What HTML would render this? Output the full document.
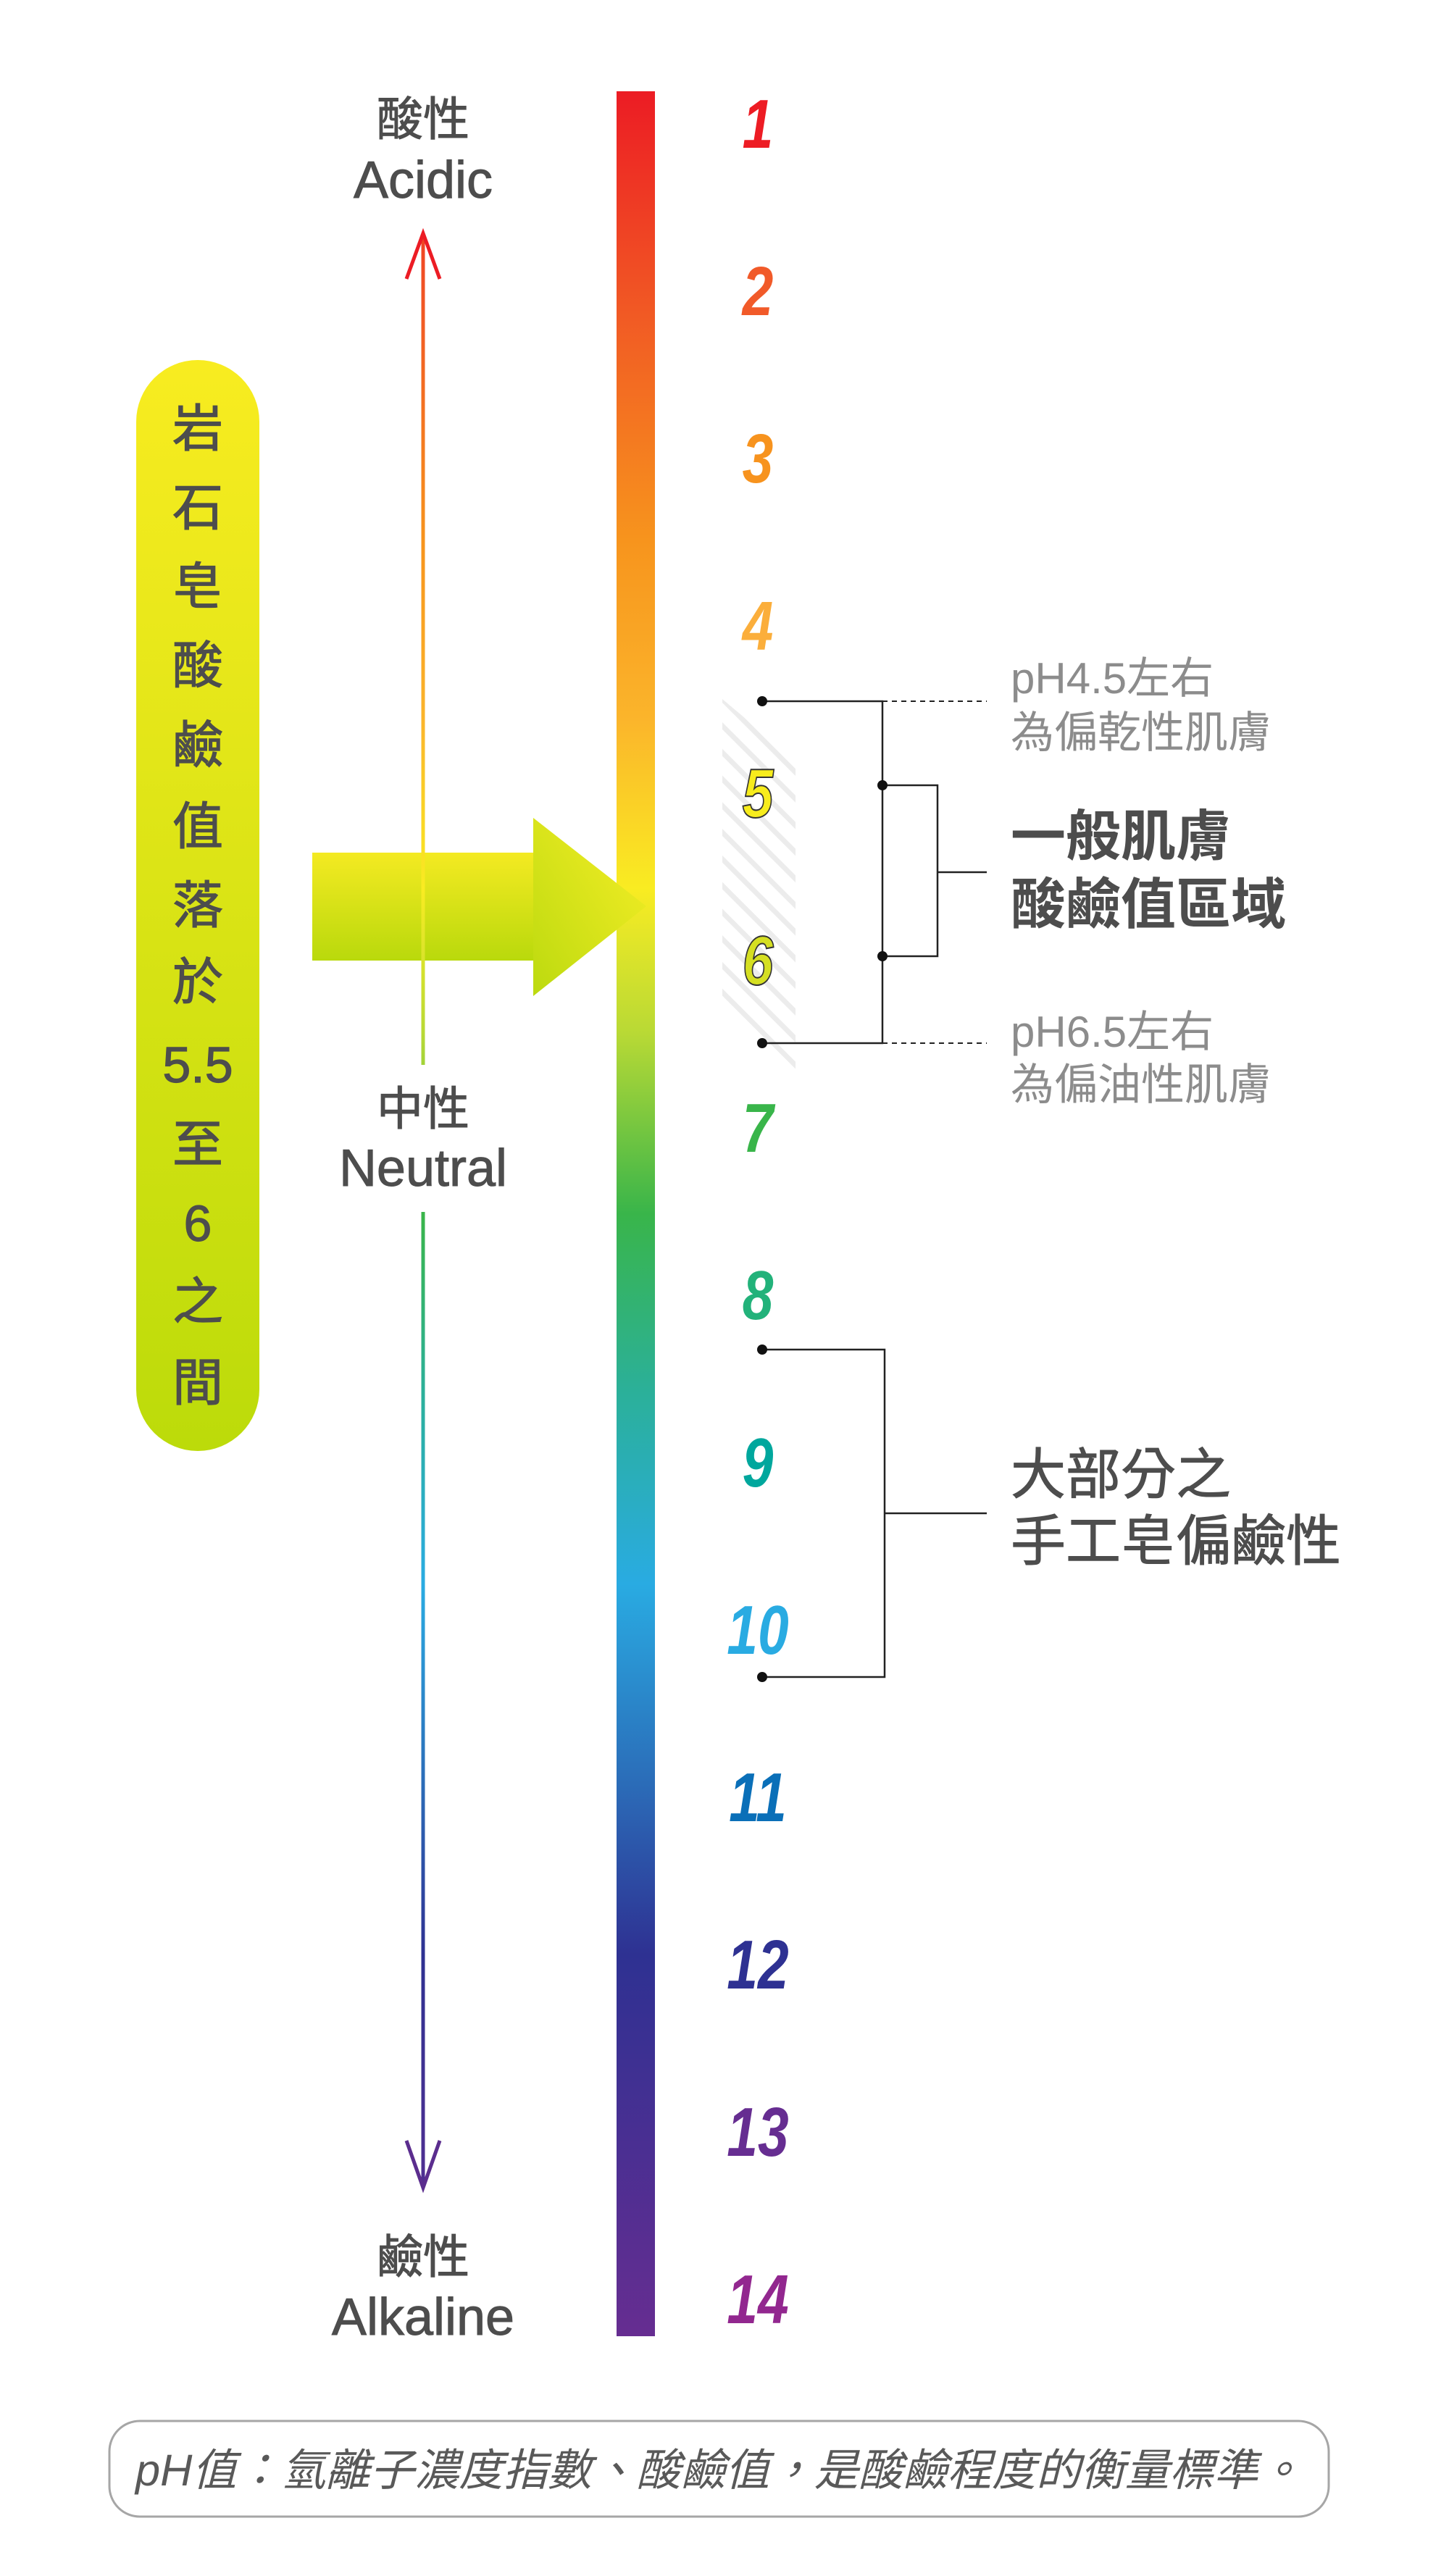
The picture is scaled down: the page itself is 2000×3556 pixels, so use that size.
<!DOCTYPE html>
<html><head><meta charset="utf-8">
<style>
html,body{margin:0;padding:0;background:#fff;}
svg{display:block;}
.cjk{font-family:"Liberation Sans","Noto Sans CJK TC",sans-serif;}
.num{font-family:"Liberation Sans",sans-serif;font-style:italic;font-weight:bold;font-size:96px;text-anchor:middle;}
</style></head>
<body>
<svg width="2000" height="3556" viewBox="0 0 2000 3556" xmlns="http://www.w3.org/2000/svg">
<defs>
<linearGradient id="bar" x1="0" y1="126" x2="0" y2="3225" gradientUnits="userSpaceOnUse">
<stop offset="0" stop-color="#ec1c24"/>
<stop offset="0.1" stop-color="#f15a24"/>
<stop offset="0.2" stop-color="#f7941d"/>
<stop offset="0.28" stop-color="#fbb52b"/>
<stop offset="0.355" stop-color="#f9ec22"/>
<stop offset="0.42" stop-color="#b8d935"/>
<stop offset="0.5" stop-color="#39b54a"/>
<stop offset="0.58" stop-color="#2bb09a"/>
<stop offset="0.665" stop-color="#29abe2"/>
<stop offset="0.75" stop-color="#2b6fba"/>
<stop offset="0.83" stop-color="#2e3192"/>
<stop offset="1" stop-color="#662d91"/>
</linearGradient>
<linearGradient id="pill" x1="0" y1="0" x2="0" y2="1">
<stop offset="0" stop-color="#f8ec20"/>
<stop offset="1" stop-color="#bcdb0a"/>
</linearGradient>
<linearGradient id="arr" x1="0" y1="0" x2="0" y2="1">
<stop offset="0" stop-color="#f4ea22"/>
<stop offset="1" stop-color="#b9d90c"/>
</linearGradient>
<linearGradient id="head" x1="0" y1="1" x2="1" y2="0">
<stop offset="0" stop-color="#bcda0f"/>
<stop offset="1" stop-color="#f7ee27"/>
</linearGradient>
<pattern id="hatch" patternUnits="userSpaceOnUse" width="26" height="26" patternTransform="rotate(45)">
<rect width="26" height="26" fill="#fff"/>
<rect x="0" y="0" width="26" height="7" fill="#ececec"/>
</pattern>
<clipPath id="hc"><polygon points="997,965 1098,1050 1098,1480 997,1395"/></clipPath>
</defs>

<rect x="997" y="965" width="101" height="515" fill="url(#hatch)" clip-path="url(#hc)"/>

<!-- pill -->
<rect x="188" y="497" width="170" height="1506" rx="85" ry="85" fill="url(#pill)"/>
<g class="cjk" font-size="70" fill="#4d4d4d" stroke="#4d4d4d" stroke-width="1.2" text-anchor="middle">
<text x="273" y="616">岩</text>
<text x="273" y="725">石</text>
<text x="273" y="834">皂</text>
<text x="273" y="943">酸</text>
<text x="273" y="1053">鹼</text>
<text x="273" y="1165">值</text>
<text x="273" y="1274">落</text>
<text x="273" y="1380">於</text>
<text x="273" y="1494">5.5</text>
<text x="273" y="1604">至</text>
<text x="273" y="1713">6</text>
<text x="273" y="1821">之</text>
<text x="273" y="1933">間</text>
</g>

<!-- bar -->
<rect x="851" y="126" width="53" height="3099" fill="url(#bar)"/>

<!-- big arrow -->
<rect x="431" y="1177" width="306" height="149" fill="url(#arr)"/>
<polygon points="736,1129 892,1251 736,1375" fill="url(#head)"/>

<!-- left arrow line -->
<line x1="584" y1="322" x2="584" y2="1470" stroke="url(#bar)" stroke-width="5"/>
<line x1="584" y1="1673" x2="584" y2="3020" stroke="url(#bar)" stroke-width="5"/>
<polyline points="561,385 584,322 607,385" fill="none" stroke="#ec1c24" stroke-width="5"/>
<polyline points="561,2955 584,3020 607,2955" fill="none" stroke="#5b2d8e" stroke-width="5"/>

<!-- left labels -->
<g class="cjk" fill="#4d4d4d" stroke="#4d4d4d" stroke-width="1" text-anchor="middle">
<text x="584" y="187" font-size="64">酸性</text>
<text x="584" y="273" font-size="72">Acidic</text>
<text x="584" y="1553" font-size="64">中性</text>
<text x="584" y="1637" font-size="72">Neutral</text>
<text x="584" y="3138" font-size="64">鹼性</text>
<text x="584" y="3223" font-size="72">Alkaline</text>
</g>

<!-- numbers -->
<g class="num">
<g transform="translate(1046,204) scale(0.8,1)"><text fill="#ed1c24">1</text></g>
<g transform="translate(1046,435) scale(0.8,1)"><text fill="#f15a29">2</text></g>
<g transform="translate(1046,666) scale(0.8,1)"><text fill="#f7931e">3</text></g>
<g transform="translate(1046,897) scale(0.8,1)"><text fill="#fbae3b">4</text></g>
<g transform="translate(1046,1128) scale(0.8,1)"><text fill="#f7ec1c" stroke="#333" stroke-width="2">5</text></g>
<g transform="translate(1046,1359) scale(0.8,1)"><text fill="#d5df22" stroke="#333" stroke-width="2">6</text></g>
<g transform="translate(1046,1590) scale(0.8,1)"><text fill="#39b54a">7</text></g>
<g transform="translate(1046,1821) scale(0.8,1)"><text fill="#22b27a">8</text></g>
<g transform="translate(1046,2052) scale(0.8,1)"><text fill="#00a79d">9</text></g>
<g transform="translate(1046,2283) scale(0.8,1)"><text fill="#29abe2">10</text></g>
<g transform="translate(1046,2514) scale(0.8,1)"><text fill="#0a6fb8">11</text></g>
<g transform="translate(1046,2745) scale(0.8,1)"><text fill="#2e3192">12</text></g>
<g transform="translate(1046,2976) scale(0.8,1)"><text fill="#662d91">13</text></g>
<g transform="translate(1046,3207) scale(0.8,1)"><text fill="#92278f">14</text></g>
</g>

<!-- brackets -->
<g stroke="#222" stroke-width="2.5" fill="none">
<polyline points="1052,968 1218,968 1218,1440 1052,1440"/>
<polyline points="1218,1084 1294,1084 1294,1320 1218,1320"/>
<line x1="1294" y1="1204" x2="1362" y2="1204"/>
<line x1="1218" y1="968" x2="1362" y2="968" stroke-dasharray="7,6" stroke-width="2"/>
<line x1="1218" y1="1440" x2="1362" y2="1440" stroke-dasharray="7,6" stroke-width="2"/>
<polyline points="1052,1863 1221,1863 1221,2315 1052,2315"/>
<line x1="1221" y1="2089" x2="1362" y2="2089"/>
</g>
<g fill="#111">
<circle cx="1052" cy="968" r="7"/><circle cx="1052" cy="1440" r="7"/>
<circle cx="1218" cy="1084" r="7"/><circle cx="1218" cy="1320" r="7"/>
<circle cx="1052" cy="1863" r="7"/><circle cx="1052" cy="2315" r="7"/>
</g>

<!-- right labels -->
<g class="cjk" fill="#8c8c8c" font-size="60">
<text x="1395" y="957">pH4.5左右</text>
<text x="1395" y="1032">為偏乾性肌膚</text>
<text x="1395" y="1445">pH6.5左右</text>
<text x="1395" y="1518">為偏油性肌膚</text>
</g>
<g class="cjk" fill="#4d4d4d" font-size="76">
<text x="1395" y="1181" font-weight="bold">一般肌膚</text>
<text x="1395" y="1275" font-weight="bold">酸鹼值區域</text>
<text x="1395" y="2062" stroke="#4d4d4d" stroke-width="1">大部分之</text>
<text x="1395" y="2154" stroke="#4d4d4d" stroke-width="1">手工皂偏鹼性</text>
</g>

<!-- footer -->
<rect x="151" y="3342" width="1683" height="132" rx="42" ry="42" fill="#fff" stroke="#a6a6a6" stroke-width="3"/>
<text x="187" y="3431" class="cjk" font-size="61" font-style="italic" fill="#595959" textLength="1611" lengthAdjust="spacingAndGlyphs">pH值：氫離子濃度指數、酸鹼值，是酸鹼程度的衡量標準。</text>
</svg>
</body></html>
